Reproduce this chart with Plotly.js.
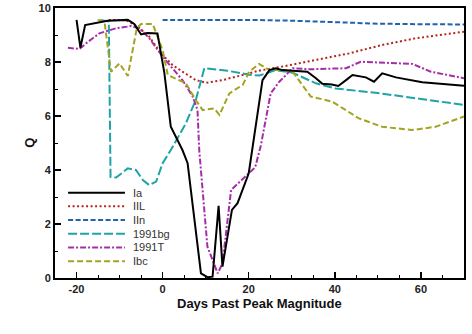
<!DOCTYPE html>
<html>
<head>
<meta charset="utf-8">
<script src="https://cdn.plot.ly/plotly-3.0.1.min.js"></script>
<style>
  body { margin: 0; padding: 0; background: #fff; }
  #chart { width: 472px; height: 334px; }
</style>
</head>
<body>
<div id="chart"></div>
<script>
// Q vs days past peak magnitude, one pair of arrays per supernova type

const iaDays = [-20, -19.1, -18, -14.7, -12.8, -8.1, -6.6, -5, -3.5, -1.2, 0.4, 1.9, 4.6, 5.8, 8.9, 10.4, 11.6, 13, 13.9, 16.1, 17.4, 20, 20.9, 23.2, 24.8, 26.3, 27.8, 30.6, 33.6, 35.6, 37.1, 39.3, 40.8, 42.6, 44.1, 47.2, 49.1, 51, 54.2, 60.3, 70];
const iaQ    = [9.56, 8.53, 9.37, 9.46, 9.53, 9.56, 9.41, 9.02, 9.07, 9.06, 7.6, 5.6, 4.74, 4.25, 0.17, 0.03, 0.05, 2.67, 0.42, 2.52, 2.77, 3.88, 4.8, 7.33, 7.7, 7.77, 7.7, 7.68, 7.64, 7.4, 7.19, 7.17, 7.11, 7.33, 7.52, 7.43, 7.27, 7.58, 7.43, 7.25, 7.12];

const iilDays = [-12.5, -8.5, -5.8, -3.1, -0.4, 2.3, 4.6, 7.7, 10.1, 13.9, 18.6, 22.4, 27.8, 35.6, 43.3, 51, 58.8, 70];
const iilQ    = [9.56, 9.56, 9.31, 8.94, 8.32, 7.89, 7.64, 7.33, 7.23, 7.33, 7.52, 7.68, 7.83, 8.07, 8.32, 8.63, 8.88, 9.12];

const iinDays = [0, 20, 30, 40, 50, 60, 70];
const iinQ    = [9.56, 9.56, 9.53, 9.48, 9.42, 9.4, 9.39];

const bgDays = [-14.5, -12.5, -12.1, -10.8, -8.1, -6.2, -4.6, -3.1, -1.5, 0, 1.9, 5.4, 7.7, 9.7, 15, 20, 22.5, 24, 26.3, 30.2, 35.6, 40.2, 50, 60, 70];
const bgQ    = [9.56, 9.5, 3.74, 3.72, 4.06, 4.0, 3.63, 3.44, 3.57, 4.25, 4.74, 5.73, 6.59, 7.77, 7.68, 7.53, 7.5, 7.58, 7.7, 7.6, 7.21, 7.02, 6.85, 6.63, 6.41];

const tDays = [-22, -19.3, -17.8, -14.7, -10.8, -7.3, -5.4, -3.1, 0, 4.6, 7, 8.1, 8.5, 10.4, 12.8, 13.9, 15.9, 20.1, 21.5, 22.8, 25.1, 27.1, 30.2, 34, 42.6, 46, 58, 62.3, 70];
const tQ    = [8.53, 8.48, 8.69, 9.06, 9.25, 9.33, 9.25, 8.88, 8.2, 7.33, 6.72, 6.22, 4.74, 1.16, 0.17, 0.54, 3.26, 3.88, 4.1, 4.9, 6.84, 7.27, 7.77, 7.73, 7.77, 8.01, 7.93, 7.64, 7.4];

const ibcDays = [-15.1, -13.5, -12, -10, -8.1, -6, -5, -2.3, 0, 1.2, 5.4, 7.7, 9.3, 12, 13.2, 15.5, 18.6, 20.1, 22.4, 24.8, 27.8, 30.2, 34.4, 39.4, 45.6, 51, 58, 63.4, 70];
const ibcQ    = [9.56, 9.49, 7.64, 7.95, 7.48, 9.25, 9.41, 9.41, 8.44, 7.52, 7.21, 6.59, 6.22, 6.28, 6.04, 6.84, 7.15, 7.64, 7.93, 7.7, 7.7, 7.64, 6.72, 6.53, 5.91, 5.6, 5.48, 5.6, 5.98];

const seriesNames = ['Ia', 'IIL', 'IIn', '1991bg', '1991T', 'Ibc'];
const xTicks = [-20, 0, 20, 40, 60];
const yTicks = [0, 2, 4, 6, 8, 10];
const xTitle = 'Days Past Peak Magnitude';
const yTitle = 'Q';

const styles = [
    { color: '#000000', dash: 'solid', width: 2 },
    { color: '#b3261e', dash: '2px,2.5px', width: 2 },
    { color: '#1f63ad', dash: '5px,2.5px', width: 2 },
    { color: '#1fa3a6', dash: '9px,3px', width: 2 },
    { color: '#a52ea8', dash: '6px,2px,2px,2px', width: 2 },
    { color: '#a3a31f', dash: '6px,3px', width: 2 }
];

const xs = [iaDays, iilDays, iinDays, bgDays, tDays, ibcDays];
const ys = [iaQ, iilQ, iinQ, bgQ, tQ, ibcQ];

// draw order: last one ends up on top, black Ia last like the reference
const order = [1, 2, 3, 4, 5, 0];
const traces = order.map(i => ({
    x: xs[i],
    y: ys[i],
    type: 'scatter',
    mode: 'lines',
    name: seriesNames[i],
    line: { color: styles[i].color, dash: styles[i].dash, width: styles[i].width },
    hoverinfo: 'skip'
}));

// hand made legend (plotly's rows are too tall for this one)
const shapes = [];
const annotations = [];
const legX0 = 0.032, legX1 = 0.171, legTextX = 0.186;
const legY0 = 0.316, legStep = 0.0507;
seriesNames.forEach((name, i) => {
    const yy = legY0 - i * legStep;
    shapes.push({
        type: 'line', xref: 'paper', yref: 'paper',
        x0: legX0, x1: legX1, y0: yy, y1: yy,
        line: { color: styles[i].color, dash: styles[i].dash, width: styles[i].width }
    });
    annotations.push({
        x: legTextX, y: yy, xref: 'paper', yref: 'paper',
        xanchor: 'left', yanchor: 'middle',
        text: name, showarrow: false,
        font: { family: 'Liberation Sans, Arial, sans-serif', size: 11, color: '#333' }
    });
});

const tickFont = { family: 'Liberation Sans, Arial, sans-serif', size: 11, color: '#222', weight: 'bold' };
const titleFont = { family: 'Liberation Sans, Arial, sans-serif', size: 13, color: '#111', weight: 'bold' };

// axis titles as annotations so they sit where the reference has them
annotations.push({
    x: 0.5, y: -0.093, xref: 'paper', yref: 'paper',
    xanchor: 'center', yanchor: 'middle',
    text: xTitle, showarrow: false, font: titleFont
});
annotations.push({
    x: -0.064, y: 0.5, xref: 'paper', yref: 'paper',
    xanchor: 'center', yanchor: 'middle', textangle: -90,
    text: yTitle, showarrow: false, font: titleFont
});

const layout = {
    width: 472,
    height: 334,
    margin: { t: 8, r: 8, b: 56, l: 55 },
    paper_bgcolor: '#fff',
    plot_bgcolor: '#fff',
    showlegend: false,
    xaxis: {
        range: [-25, 70],
        tickvals: xTicks,
        ticktext: xTicks.map(String),
        ticks: 'inside', ticklen: 6, tickwidth: 1.5, tickcolor: '#000',
        minor: { dtick: 5, tick0: 0, ticks: 'inside', ticklen: 3, tickwidth: 1, tickcolor: '#000' },
        showgrid: false, zeroline: false,
        showline: true, linecolor: '#000', linewidth: 2, mirror: true,
        tickfont: tickFont
    },
    yaxis: {
        range: [0, 10],
        tickvals: yTicks,
        ticktext: yTicks.map(String),
        ticks: 'inside', ticklen: 6, tickwidth: 1.5, tickcolor: '#000',
        minor: { dtick: 1, tick0: 0, ticks: 'inside', ticklen: 3, tickwidth: 1, tickcolor: '#000' },
        showgrid: false, zeroline: false,
        showline: true, linecolor: '#000', linewidth: 2, mirror: true,
        tickfont: tickFont
    },
    shapes: shapes,
    annotations: annotations
};

Plotly.newPlot('chart', traces, layout, { displayModeBar: false, staticPlot: true });
</script>
</body>
</html>
